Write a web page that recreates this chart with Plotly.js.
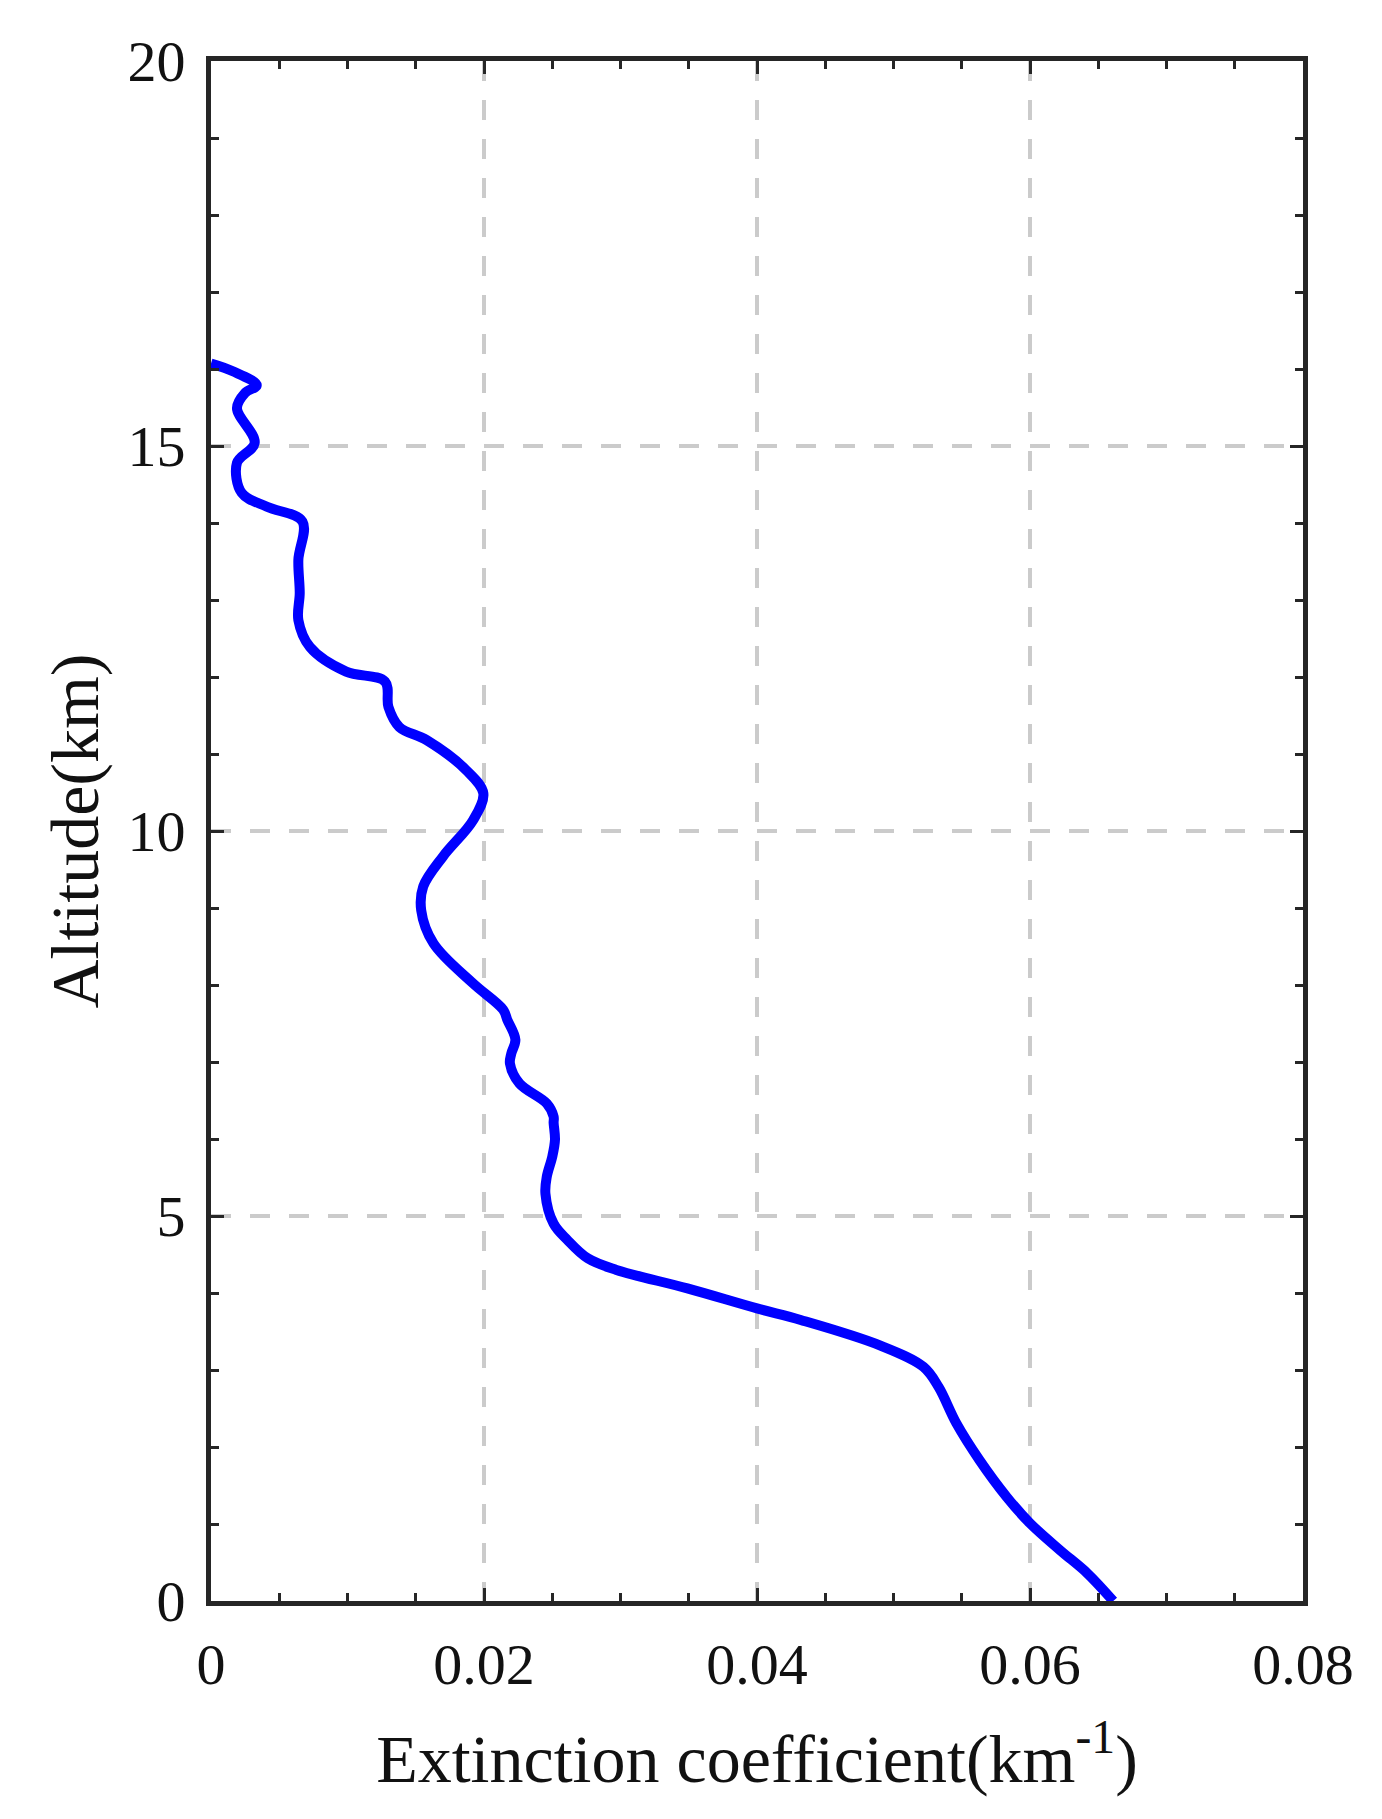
<!DOCTYPE html>
<html>
<head>
<meta charset="utf-8">
<script src="https://cdn.plot.ly/plotly-3.0.1.min.js"></script>
<style>
  html, body { margin: 0; padding: 0; background: #fff; }
  #chart { width: 1382px; height: 1819px; }
</style>
</head>
<body>
<div id="chart"></div>
<script>
// profile, from the top of the layer down to the ground
const altitude = [16.07, 15.97, 15.79, 15.69, 15.49, 15.04, 14.78, 14.39, 14.21, 14.02,
  13.52, 13.09, 12.74, 12.39, 12.07, 11.94, 11.61, 11.35, 11.18, 10.79,
  10.49, 10.14, 9.67, 9.28, 8.97, 8.54, 8.02, 7.68, 7.55, 7.29,
  7.11, 6.98, 6.72, 6.46, 6.29, 6.21, 5.99, 5.77, 5.51, 5.29,
  4.90, 4.69, 4.45, 4.30, 4.06, 3.80, 3.65, 3.32, 3.04, 2.78,
  2.31, 1.83, 1.35, 1.01, 0.66, 0.36, 0.00];
const extinction = [0.0000, 0.0016, 0.00335, 0.0025, 0.0019, 0.0032, 0.0019, 0.00225, 0.0041, 0.0067,
  0.0064, 0.0065, 0.0064, 0.00725, 0.0099, 0.01275, 0.0130, 0.0138, 0.0158, 0.0187,
  0.01995, 0.0192, 0.0170, 0.01555, 0.0154, 0.0163, 0.0192, 0.0214, 0.0217, 0.0223,
  0.0220, 0.0219, 0.0226, 0.0246, 0.0251, 0.0251, 0.0252, 0.0250, 0.0246, 0.0245,
  0.0251, 0.0261, 0.0276, 0.0297, 0.0349, 0.0400, 0.0432, 0.0490, 0.0522, 0.0533,
  0.0546, 0.0563, 0.0583, 0.0600, 0.0622, 0.0642, 0.0661];

const xTicks = [0, 0.02, 0.04, 0.06, 0.08];
const xTickText = ['0', '0.02', '0.04', '0.06', '0.08'];
const yTicks = [0, 5, 10, 15, 20];

const serif = 'Liberation Serif, Times New Roman, serif';
const axisColor = '#262626';
const textColor = '#111111';

const trace = {
  x: extinction,
  y: altitude,
  type: 'scatter',
  mode: 'lines',
  line: { color: '#0000ff', width: 10, shape: 'spline', smoothing: 1 },
  hoverinfo: 'skip'
};

const common = {
  showline: true,
  linecolor: axisColor,
  linewidth: 5,
  mirror: 'ticks',
  ticks: 'inside',
  ticklen: 13,
  tickwidth: 3,
  tickcolor: axisColor,
  showgrid: true,
  gridcolor: '#cbcbcb',
  gridwidth: 4,
  griddash: '20px,19px',
  zeroline: false,
  tickfont: { family: serif, size: 58, color: textColor }
};

const layout = {
  width: 1382,
  height: 1819,
  margin: { l: 211, r: 79, t: 61, b: 218 },
  paper_bgcolor: '#ffffff',
  plot_bgcolor: '#ffffff',
  showlegend: false,
  xaxis: Object.assign({}, common, {
    range: [0, 0.08],
    tickvals: xTicks,
    ticktext: xTickText,
    ticklabelstandoff: 8,
    minor: { dtick: 0.005, ticks: 'inside', ticklen: 8, tickwidth: 3, tickcolor: axisColor, showgrid: false },
    title: {
      text: 'Extinction coefficient(km<sup>-1</sup>)',
      font: { family: serif, size: 68, color: textColor },
      standoff: 40
    }
  }),
  yaxis: Object.assign({}, common, {
    range: [0, 20],
    tickvals: yTicks,
    ticklabelstandoff: 9,
    minor: { dtick: 1, ticks: 'inside', ticklen: 8, tickwidth: 3, tickcolor: axisColor, showgrid: false },
    title: {
      text: 'Altitude(km)',
      font: { family: serif, size: 68, color: textColor },
      standoff: 8
    }
  })
};

Plotly.newPlot('chart', [trace], layout, { staticPlot: true, displayModeBar: false });
</script>
</body>
</html>
